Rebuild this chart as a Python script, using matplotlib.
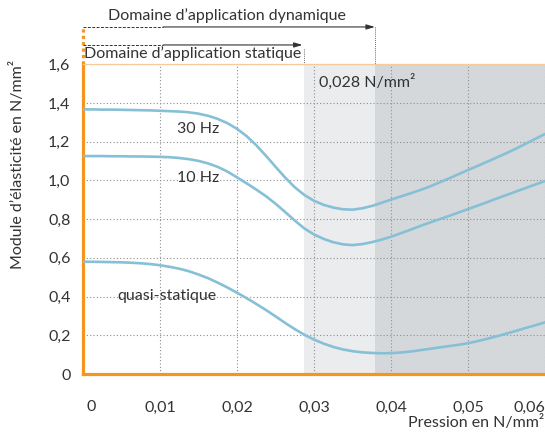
import matplotlib
matplotlib.use('Agg')
import matplotlib.pyplot as plt
import matplotlib.transforms as mtransforms
import numpy as np

plt.rcParams['font.family'] = ['Lato', 'DejaVu Sans']

# pression en N/mm2, lue tous les 0,00125
pression = np.linspace(0, 0.06, 49)

hz30 = [1.367, 1.367, 1.366, 1.366, 1.365, 1.364, 1.363, 1.362, 1.360, 1.358,
        1.356, 1.352, 1.345, 1.334, 1.318, 1.296, 1.267, 1.229, 1.182, 1.128,
        1.071, 1.015, 0.965, 0.925, 0.895, 0.874, 0.860, 0.851, 0.849, 0.856,
        0.868, 0.884, 0.901, 0.917, 0.933, 0.950, 0.968, 0.989, 1.010, 1.032,
        1.054, 1.075, 1.097, 1.119, 1.141, 1.165, 1.190, 1.215, 1.240]

hz10 = [1.126, 1.126, 1.126, 1.125, 1.125, 1.124, 1.124, 1.123, 1.122, 1.120,
        1.116, 1.110, 1.101, 1.088, 1.070, 1.046, 1.016, 0.985, 0.953, 0.919,
        0.880, 0.837, 0.793, 0.752, 0.721, 0.698, 0.681, 0.670, 0.666, 0.671,
        0.681, 0.694, 0.709, 0.727, 0.745, 0.764, 0.782, 0.799, 0.816, 0.834,
        0.852, 0.870, 0.888, 0.907, 0.925, 0.943, 0.961, 0.979, 0.997]

quasi = [0.580, 0.580, 0.579, 0.578, 0.577, 0.575, 0.572, 0.568, 0.562, 0.554,
         0.544, 0.531, 0.514, 0.495, 0.472, 0.447, 0.420, 0.392, 0.362, 0.331,
         0.298, 0.264, 0.232, 0.203, 0.178, 0.157, 0.140, 0.127, 0.118, 0.112,
         0.109, 0.107, 0.108, 0.111, 0.116, 0.123, 0.130, 0.137, 0.144, 0.151,
         0.159, 0.170, 0.182, 0.195, 0.209, 0.223, 0.238, 0.252, 0.267]

xticks = [0, 0.01, 0.02, 0.03, 0.04, 0.05, 0.06]
xticklabels = ['0', '0,01', '0,02', '0,03', '0,04', '0,05', '0,06']
yticks = [0, 0.2, 0.4, 0.6, 0.8, 1.0, 1.2, 1.4, 1.6]
yticklabels = ['0', '0,2', '0,4', '0,6', '0,8', '1,0', '1,2', '1,4', '1,6']

statique_fin = 0.0287
dynamique_fin = 0.0379

orange = '#f7941d'
bleu = '#86c0d6'
texte = '#333333'

fig = plt.figure(figsize=(5.45, 4.34), dpi=100)
ax = fig.add_axes([0.1523, 0.1382, 0.8477, 0.7136])

ax.axvspan(statique_fin, dynamique_fin, color='#ebecee', zorder=0.1, lw=0)
ax.axvspan(dynamique_fin, 0.06, color='#d5d8db', zorder=0.1, lw=0)

ax.set_axisbelow(True)
ax.grid(True, linestyle=(0, (1, 2)), linewidth=0.8, color='#8e8e8e')

for serie in [hz30, hz10, quasi]:
    ax.plot(pression, serie, color=bleu, lw=1.9, solid_joinstyle='round', zorder=3)

ax.set_xlim(0, 0.06)
ax.set_ylim(0, 1.6)

ax.spines['right'].set_visible(False)
ax.spines['left'].set_color(orange)
ax.spines['left'].set_linewidth(2.3)
ax.spines['bottom'].set_color(orange)
ax.spines['bottom'].set_linewidth(2.3)
ax.spines['top'].set_color('#f8c99a')
ax.spines['top'].set_linewidth(0.9)

fs = 11.5
ax.set_xticks(xticks)
ax.set_xticklabels(xticklabels, fontsize=fs, color=texte)
ax.set_yticks(yticks)
ax.set_yticklabels(yticklabels, fontsize=fs, color=texte)
ax.tick_params(axis='both', length=0)
ax.tick_params(axis='x', pad=19)
ax.tick_params(axis='y', pad=9)

labs = ax.get_xticklabels()
labs[0].set_transform(labs[0].get_transform() + mtransforms.ScaledTranslation(8/100, 0, fig.dpi_scale_trans))
labs[-1].set_transform(labs[-1].get_transform() + mtransforms.ScaledTranslation(-16/100, 0, fig.dpi_scale_trans))

fig.text(0.033, 0.622, 'Module d\u2019élasticité en N/mm²', rotation=90, ha='center', va='center',
         fontsize=fs, color=texte)
fig.text(0.999, 0.027, 'Pression en N/mm²', ha='right', va='center', fontsize=fs, color=texte)

# etiquettes des courbes
ax.text(0.0149, 1.264, '30 Hz', ha='center', va='center', fontsize=fs, color=texte)
ax.text(0.0150, 1.015, '10 Hz', ha='center', va='center', fontsize=fs, color=texte)
ax.text(0.0109, 0.402, 'quasi-statique', ha='center', va='center', fontsize=fs, color=texte)
ax.text(0.0306, 1.507, '0,028 N/mm²', ha='left', va='center', fontsize=fs, color=texte)

# domaines d'application au-dessus du graphique
y_dyn = 1.793
y_stat = 1.700
ax.plot([0, 0], [1.6, 1.80], color=orange, lw=2.3, linestyle=(0, (1, 1)), clip_on=False)

ax.plot([0, 0.0104], [y_dyn, y_dyn], color=texte, lw=0.7, linestyle=(0, (3, 1.5)), clip_on=False)
ax.annotate('', xy=(dynamique_fin, y_dyn), xytext=(0.0104, y_dyn), annotation_clip=False,
            arrowprops=dict(arrowstyle='-|>,head_length=0.5,head_width=0.15', color=texte, lw=0.8,
                            shrinkA=0, shrinkB=0))
ax.plot([dynamique_fin, dynamique_fin], [y_dyn, 1.6], color=texte, lw=0.6, linestyle=(0, (1, 1.5)), clip_on=False)
ax.text(0.0032, 1.85, 'Domaine d\u2019application dynamique', ha='left', va='center', fontsize=fs, color=texte)

ax.plot([0, 0.0104], [y_stat, y_stat], color=texte, lw=0.7, linestyle=(0, (3, 1.5)), clip_on=False)
ax.annotate('', xy=(statique_fin - 0.0002, y_stat), xytext=(0.0104, y_stat), annotation_clip=False,
            arrowprops=dict(arrowstyle='-|>,head_length=0.5,head_width=0.15', color=texte, lw=0.8,
                            shrinkA=0, shrinkB=0))
ax.plot([statique_fin, statique_fin], [1.68, 1.6], color=texte, lw=0.6, linestyle=(0, (1, 1.5)), clip_on=False)
ax.text(0.0001, 1.655, 'Domaine d\u2019application statique', ha='left', va='center', fontsize=fs, color=texte)

plt.savefig('out.png', dpi=100)
